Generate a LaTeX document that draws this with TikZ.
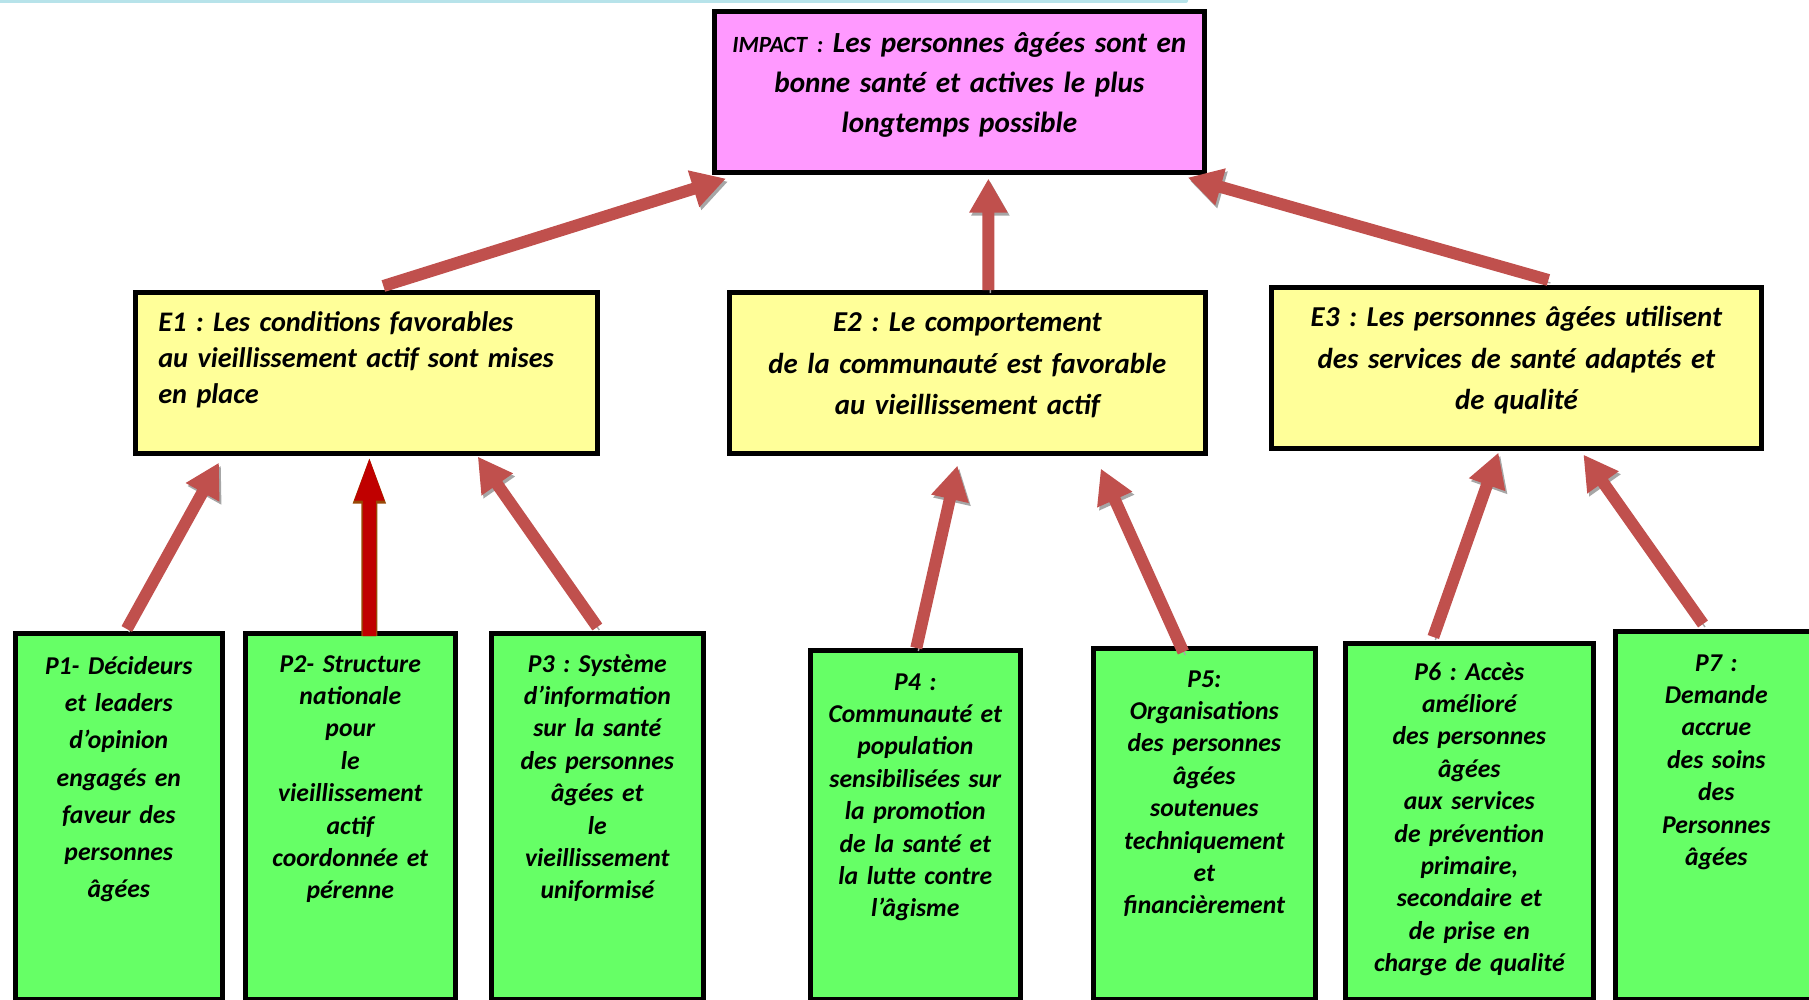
\documentclass[tikz,border=0pt]{standalone}
\usepackage{fontspec}
\setmainfont{Carlito}
\usetikzlibrary{arrows.meta}
\frenchspacing

\definecolor{impactPink}{HTML}{FF99FF}
\definecolor{effectYellow}{HTML}{FFFF99}
\definecolor{outputGreen}{HTML}{66FF66}
\definecolor{arrowRed}{HTML}{C0504D}
\definecolor{keyRed}{HTML}{C00000}
\definecolor{keyEdge}{HTML}{984806}
\definecolor{shadowGray}{HTML}{A6A6A6}
\definecolor{stripBlue}{HTML}{B7E3EA}

\tikzstyle{impactBox}=[draw=black,line width=0.045cm,fill=impactPink,anchor=north west,inner sep=0pt,align=center,font=\fontsize{8.3}{11.4}\selectfont\bfseries\itshape]
\tikzstyle{effectBox}=[draw=black,line width=0.045cm,fill=effectYellow,anchor=north west,inner sep=0pt,align=center,font=\fontsize{8.2}{11.8}\selectfont\bfseries\itshape]
\tikzstyle{outputBox}=[draw=black,line width=0.045cm,fill=outputGreen,anchor=north west,inner sep=0pt,align=center,font=\fontsize{7.3}{9.2}\selectfont\bfseries\itshape]
\tikzstyle{linkArrow}=[draw=arrowRed,line width=0.12cm,-{Triangle[width=0.36cm,length=0.34cm]},preaction={draw=shadowGray,transform canvas={xshift=0.02cm,yshift=-0.03cm}}]
\tikzstyle{keyArrow}=[draw=keyRed,line width=0.13cm,-{Triangle[width=0.26cm,length=0.46cm]},preaction={draw=keyEdge,line width=0.16cm,-{Triangle[width=0.29cm,length=0.49cm]}}]

\begin{document}
\begin{tikzpicture}[x=0.01cm,y=-0.01cm]
        \useasboundingbox (0,0) rectangle (1809,1000);
        \clip (0,0) rectangle (1809,1000);
        \fill[stripBlue,rounded corners=0.02cm] (-5,-3) rectangle (1188,3);

        % impact
        \node[impactBox,text width=4.90cm,text height=0.415cm,text depth=1.195cm] (impact) at (712,9)
            {{\fontsize{6.6}{11.4}\selectfont\bfseries\itshape IMPACT :} Les personnes âgées sont en\\bonne santé et actives le plus\\longtemps possible};

        % effets
        \node[effectBox,font=\fontsize{8.05}{10.2}\selectfont\bfseries\itshape,align=left,inner xsep=0.23cm,text width=4.16cm,text height=0.395cm,text depth=1.215cm] (e1) at (133,290)
            {E1 : Les conditions favorables\\au vieillissement actif sont mises\\en place};
        \node[effectBox,text width=4.76cm,text height=0.395cm,text depth=1.215cm] (e2) at (727,290)
            {E2 : Le comportement\\de la communauté est favorable\\au vieillissement actif};
        \node[effectBox,text width=4.90cm,text height=0.395cm,text depth=1.215cm] (e3) at (1269,285)
            {E3 : Les personnes âgées utilisent\\des services de santé adaptés et\\de qualité};

        % produits
        \node[outputBox,font=\fontsize{7.3}{10.6}\selectfont\bfseries\itshape,text width=2.07cm,text height=0.41cm,text depth=3.25cm] (p1) at (13,631)
            {P1- Décideurs\\et leaders\\d’opinion\\engagés en\\faveur des\\personnes\\âgées};
        \node[outputBox,text width=2.10cm,text height=0.39cm,text depth=3.27cm] (p2) at (243,631)
            {P2- Structure\\nationale\\pour\\le\\vieillissement\\actif\\coordonnée et\\pérenne};
        \node[outputBox,text width=2.12cm,text height=0.39cm,text depth=3.27cm] (p3) at (489,631)
            {P3 : Système\\d’information\\sur la santé\\des personnes\\âgées et\\le\\vieillissement\\uniformisé};
        \node[outputBox,text width=2.10cm,text height=0.40cm,text depth=3.09cm] (p4) at (808,648)
            {P4 :\\Communauté et\\population\\sensibilisées sur\\la promotion\\de la santé et\\la lutte contre\\l’âgisme};
        \node[outputBox,text width=2.22cm,text height=0.39cm,text depth=3.12cm] (p5) at (1091,646)
            {P5:\\Organisations\\des personnes\\âgées\\soutenues\\techniquement\\et\\financièrement};
        \node[outputBox,text width=2.48cm,text height=0.37cm,text depth=3.19cm] (p6) at (1343,641)
            {P6 : Accès\\amélioré\\des personnes\\âgées\\aux services\\de prévention\\primaire,\\secondaire et\\de prise en\\charge de qualité};
        \node[outputBox,text width=2.02cm,text height=0.40cm,text depth=3.28cm] (p7) at (1613,629)
            {P7 :\\Demande\\accrue\\des soins\\des\\Personnes\\âgées};

        \draw[linkArrow] ([shift={(17,-4)}]e1.north) -- ([shift={(14,4)}]impact.south west);
        \draw[linkArrow] ([shift={(21,0)}]e2.north) -- ([shift={(29,4)}]impact.south);
        \draw[linkArrow] ([shift={(32,-5)}]e3.north) -- ([shift={(-19,3)}]impact.south east);

        \draw[linkArrow] ([shift={(8,-2)}]p1.north) -- ([shift={(86,7)}]e1.south west);
        \draw[keyArrow]  ([shift={(19,5)}]p2.north) -- ([shift={(3,-1)}]e1.south);
        \draw[linkArrow] ([shift={(0,-4)}]p3.north) -- ([shift={(-122,1)}]e1.south east);

        \draw[linkArrow] ([shift={(1,0)}]p4.north) -- ([shift={(-10,10)}]e2.south);
        \draw[linkArrow] ([shift={(-21,6)}]p5.north) -- ([shift={(-107,13)}]e2.south east);

        \draw[linkArrow] ([shift={(-36,-4)}]p6.north) -- ([shift={(-18,2)}]e3.south);
        \draw[linkArrow] ([shift={(90,-5)}]p7.north west) -- ([shift={(67,4)}]e3.south);
\end{tikzpicture}
\end{document}
